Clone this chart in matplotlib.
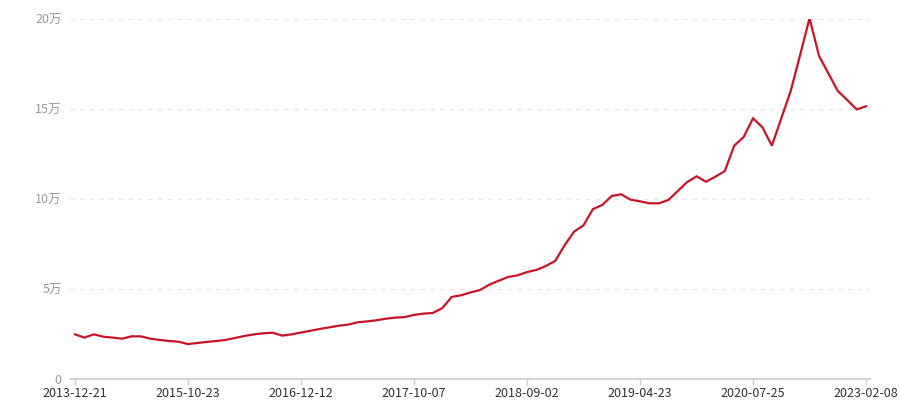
import matplotlib
matplotlib.use("Agg")
import matplotlib.pyplot as plt
import numpy as np

plt.rcParams['font.family'] = ['Noto Sans CJK SC', 'DejaVu Sans']

# price per point, in yuan (category axis, evenly spaced)
prices = [
    24800, 23000, 24800, 23500, 23000, 22400, 23700, 23700, 22400, 21700,
    21100, 20700, 19400, 20000, 20600, 21100, 21700, 22800, 23900, 24800,
    25400, 25700, 24100, 24800, 25800, 26800, 27800, 28700, 29600, 30200,
    31500, 32000, 32600, 33500, 34100, 34400, 35600, 36300, 36700, 39400,
    45600, 46500, 48100, 49400, 52400, 54600, 56700, 57600, 59400, 60600,
    62800, 65600, 74400, 81900, 85400, 94400, 96700, 101700, 102600, 99600,
    98700, 97600, 97600, 99400, 104400, 109400, 112600, 109600, 112400, 115500,
    129600, 134400, 144800, 139800, 129600, 144800, 160000, 180000, 200400, 179600,
    169800, 160000, 155000, 149800, 151500,
]
tick_labels = ["2013-12-21", "2015-10-23", "2016-12-12", "2017-10-07",
               "2018-09-02", "2019-04-23", "2020-07-25", "2023-02-08"]
y_ticks = [0, 50000, 100000, 150000, 200000]

x = np.arange(len(prices))

fig = plt.figure(figsize=(9, 4), dpi=100)
ax = fig.add_axes([70 / 900, 1 - 379 / 400, 800 / 900, 360 / 400])

ax.plot(x, prices, color='#c8142a', linewidth=1.6, solid_joinstyle='miter')

ax.set_xlim(-0.53, len(prices) - 1 + 0.42)
ax.set_ylim(0, 200000)

ax.set_xticks(x[::12])
ax.set_xticklabels(tick_labels, fontsize=9, color='#333333')
ax.set_yticks(y_ticks)
ax.set_yticklabels(["0" if v == 0 else f"{v // 10000}万" for v in y_ticks],
                   fontsize=9, color='#999999')

ax.tick_params(axis='x', length=4, width=1, color='#cccccc', pad=2)
ax.tick_params(axis='y', length=0, pad=6)

for s in ['top', 'right', 'left']:
    ax.spines[s].set_visible(False)
ax.spines['bottom'].set_color('#cccccc')
ax.spines['bottom'].set_linewidth(1.2)

ax.yaxis.grid(True, color='#e6e6e6', linestyle=(0, (3, 4)), linewidth=1)
ax.set_axisbelow(True)

fig.savefig("out.png", dpi=100)
